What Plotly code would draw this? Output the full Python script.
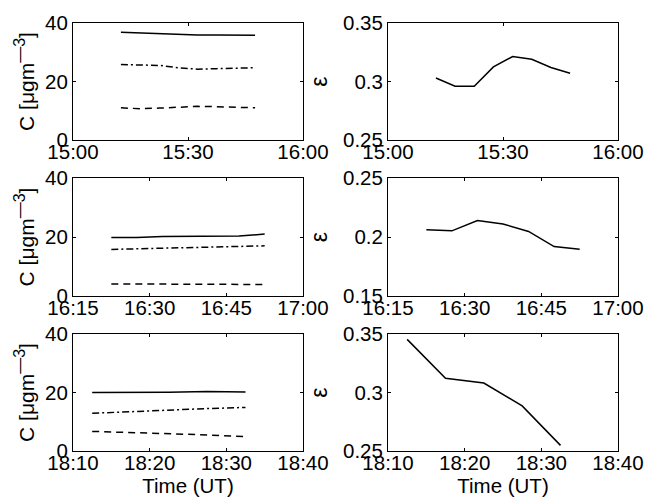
import plotly.graph_objects as go
from plotly.subplots import make_subplots

DAY = "2000-01-01 "

# --- Panel 1: 15:00 - 16:00 ---
t1 = ["15:12:30", "15:17:30", "15:22:30", "15:27:30", "15:32:30", "15:37:30", "15:42:30", "15:47:30"]
c1_total = [36.8, 36.6, 36.3, 36.0, 35.9, 35.9, 35.9, 35.8]
c1_dashdot = [25.8, 25.7, 25.5, 24.7, 24.2, 24.4, 24.6, 24.7]
c1_dashed = [11.0, 10.7, 10.9, 11.3, 11.5, 11.4, 11.2, 11.0]
eps1 = [0.303, 0.296, 0.296, 0.3125, 0.3213, 0.319, 0.312, 0.307]

# --- Panel 2: 16:15 - 17:00 ---
t2 = ["16:22:30", "16:27:30", "16:32:30", "16:37:30", "16:42:30", "16:47:30", "16:52:30"]
c2_total = [19.8, 19.8, 20.2, 20.3, 20.3, 20.3, 21.0]
c2_dashdot = [15.8, 16.0, 16.1, 16.3, 16.5, 16.7, 17.0]
c2_dashed = [4.1, 4.1, 4.1, 4.0, 4.0, 3.9, 3.9]
eps2 = [0.2061, 0.2052, 0.214, 0.211, 0.2047, 0.1919, 0.1897]

# --- Panel 3: 18:10 - 18:40 ---
t3 = ["18:12:30", "18:17:30", "18:22:30", "18:27:30", "18:32:30"]
c3_total = [20.0, 20.0, 20.1, 20.3, 20.2]
c3_dashdot = [12.9, 13.5, 14.0, 14.5, 14.9]
c3_dashed = [6.7, 6.3, 6.0, 5.5, 4.9]
eps3 = [0.3454, 0.3121, 0.3081, 0.2885, 0.2548]

x_ranges = [("15:00", "16:00"), ("16:15", "17:00"), ("18:10", "18:40")]
x_dticks_min = [30, 15, 10]
eps_ranges = [(0.25, 0.35), (0.15, 0.25), (0.25, 0.35)]
eps_ticks = [[0.25, 0.3, 0.35], [0.15, 0.2, 0.25], [0.25, 0.3, 0.35]]
eps_ticktext = [["0.25", "0.3", "0.35"], ["0.15", "0.2", "0.25"], ["0.25", "0.3", "0.35"]]
c_ticks = [0, 20, 40]

panels = [
    (t1, c1_total, c1_dashdot, c1_dashed, eps1),
    (t2, c2_total, c2_dashdot, c2_dashed, eps2),
    (t3, c3_total, c3_dashdot, c3_dashed, eps3),
]

FONT = "Liberation Sans, Arial, Helvetica, sans-serif"
FS = 20.5
W, H = 647, 500

fig = make_subplots(rows=3, cols=2)

line_solid = dict(color="black", width=1.5)
line_dashdot = dict(color="black", width=1.5, dash="7px,3px,2px,3px")
line_dashed = dict(color="black", width=1.5, dash="7px,5px")

for r, (t, ctot, cdd, cds, eps) in enumerate(panels, start=1):
    x = [DAY + s for s in t]
    fig.add_trace(go.Scatter(x=x, y=ctot, mode="lines", line=line_solid, showlegend=False), row=r, col=1)
    fig.add_trace(go.Scatter(x=x, y=cdd, mode="lines", line=line_dashdot, showlegend=False), row=r, col=1)
    fig.add_trace(go.Scatter(x=x, y=cds, mode="lines", line=line_dashed, showlegend=False), row=r, col=1)
    fig.add_trace(go.Scatter(x=x, y=eps, mode="lines", line=line_solid, showlegend=False), row=r, col=2)

# plot-area boundaries in pixels
col_px = [(73, 303), (388, 618)]
row_px = [(23, 140), (178, 296), (334, 451)]

title_font = dict(family=FONT, size=21, color="black")
c_title = 'C [μgm<sup><span style="font-size:16px">—3</span></sup>]'
axis_common = dict(
    showline=True, linecolor="black", linewidth=1, mirror="allticks",
    ticks="inside", ticklen=3, tickcolor="black", tickwidth=1,
    showgrid=False, zeroline=False, automargin=False,
    tickfont=dict(family=FONT, size=FS, color="black"),
)

for r in range(1, 4):
    y0, y1 = row_px[r - 1]
    ydom = [1 - y1 / H, 1 - y0 / H]
    lo, hi = x_ranges[r - 1]
    for c in range(1, 3):
        x0, x1 = col_px[c - 1]
        xdom = [x0 / W, x1 / W]
        xopts = dict(
            domain=xdom, type="date",
            range=[DAY + lo, DAY + hi],
            dtick=x_dticks_min[r - 1] * 60000, tick0=DAY + lo,
            tickformat="%H:%M", ticklabelstandoff=-7,
        )
        if r == 3:
            xopts["title"] = dict(text="Time (UT)", font=dict(family=FONT, size=FS, color="black"), standoff=0)
        fig.update_xaxes(row=r, col=c, **xopts, **axis_common)
        if c == 1:
            fig.update_yaxes(
                domain=ydom, range=[0, 40], tickvals=c_ticks,
                title=dict(text=c_title, font=title_font, standoff=4),
                row=r, col=c, **axis_common,
            )
        else:
            fig.update_yaxes(
                domain=ydom, range=list(eps_ranges[r - 1]),
                tickvals=eps_ticks[r - 1], ticktext=eps_ticktext[r - 1],
                title=dict(text="ε", font=dict(family=FONT, size=23, color="black"), standoff=8),
                row=r, col=c, **axis_common,
            )

fig.update_layout(
    template="none",
    width=W, height=H,
    margin=dict(l=0, r=0, t=0, b=0),
    paper_bgcolor="white", plot_bgcolor="white",
    font=dict(family=FONT, size=FS, color="black"),
)

fig.write_html("out.html")
